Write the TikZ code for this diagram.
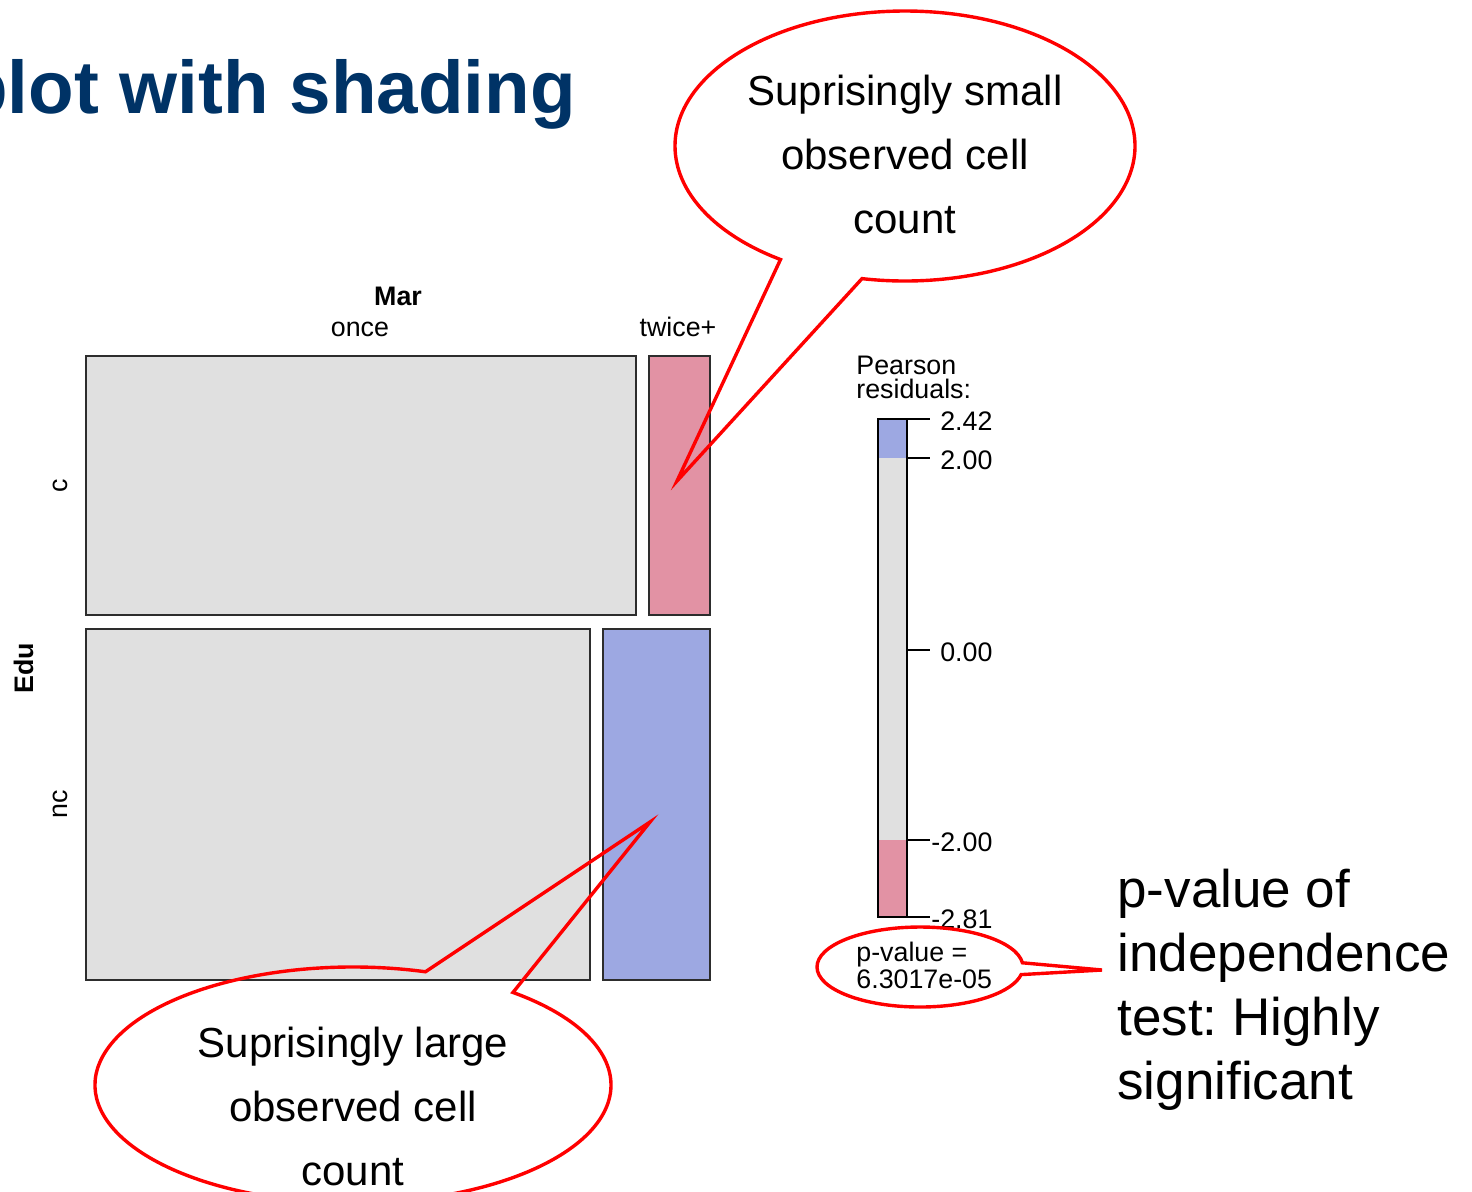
\documentclass[tikz,border=0pt]{standalone}
\usepackage{fontspec}
\setmainfont{Liberation Sans}
\usetikzlibrary{shapes.callouts,positioning}
\definecolor{titleblue}{RGB}{0,51,102}
\definecolor{cellgrey}{RGB}{224,224,224}
\definecolor{cellpink}{RGB}{226,146,164}
\definecolor{cellblue}{RGB}{157,168,226}
\definecolor{celledge}{RGB}{45,45,45}
\frenchspacing

\begin{document}
\begin{tikzpicture}[x=0.5pt,y=-0.5pt,
    cell/.style={draw=celledge, line width=1.1pt},
    plotlabel/.style={inner sep=0pt, font=\fontsize{13.4}{12}\selectfont},
    bubble/.style={ellipse callout, draw=red, line width=1.7pt, inner sep=0pt},
    bubbletext/.style={align=center, inner sep=0pt, font=\fontsize{21}{32}\selectfont}]

    \useasboundingbox (0,0) rectangle (1472,1191);
    \clip (0,0) rectangle (1472,1191);

    % TITLE
    \node[anchor=base west, inner sep=0pt, text=titleblue, font=\fontsize{37.3}{37.3}\selectfont\bfseries] (title) at (-38,113) {plot with shading};

    % MOSAIC CELLS
    \draw[cell, fill=cellgrey] (86,356) rectangle (636,615);
    \draw[cell, fill=cellpink] (649,356) rectangle (710,615);
    \draw[cell, fill=cellgrey] (86,629) rectangle (590,980);
    \draw[cell, fill=cellblue] (603,629) rectangle (710,980);

    \node[plotlabel, font=\fontsize{13.4}{12}\selectfont\bfseries, anchor=base] (marlab) at (398,305) {Mar};
    \node[plotlabel, anchor=base] (oncelab) at (360,336) {once};
    \node[plotlabel, anchor=base] (twicelab) at (678,336) {twice+};
    \node[plotlabel, font=\fontsize{13.4}{12}\selectfont\bfseries, rotate=90, anchor=base] (edulab) at (33,668) {Edu};
    \node[plotlabel, rotate=90, anchor=base] (clab) at (67,486) {c};
    \node[plotlabel, rotate=90, anchor=base] (nclab) at (67,804) {nc};

    % LEGEND
    \node[plotlabel, align=left, anchor=north west] (legtitle) at (856,356) {Pearson\\residuals:};
    \fill[cellblue] (878,419) rectangle (907,458);
    \fill[cellgrey] (878,458) rectangle (907,840);
    \fill[cellpink] (878,840) rectangle (907,917);
    \draw[line width=1.1pt] (878,419) rectangle (907,917);
    \foreach \y/\v in {419/\phantom{-}2.42, 458/\phantom{-}2.00, 650/\phantom{-}0.00, 840/-2.00, 917/-2.81} {
        \draw[line width=1.1pt] (907,\y) -- (930,\y);
        \node[plotlabel, anchor=base west] at (931,\y+11) {\v};
    }
    \node[plotlabel, align=left, anchor=north west] (pvalue) at (856,942) {p-value =\\6.3017e-05};

    % CALLOUTS
    \coordinate (smalltip) at (677,481);
    \coordinate (largetip) at (650,822);
    \coordinate (pvaltip) at (1102,970);

    \node[bubble, minimum width=230pt, minimum height=135pt, callout absolute pointer=(smalltip), callout pointer arc=22] (smallbubble) at (905,146) {};
    \node[bubbletext] (smalltext) at (905,154) {Suprisingly small\\observed cell\\count};

    \node[bubble, minimum width=258pt, minimum height=118pt, callout absolute pointer=(largetip), callout pointer arc=22] (largebubble) at (353,1085) {};
    \node[bubbletext] (largetext) at (353,1106) {Suprisingly large\\observed cell\\count};

    \node[bubble, minimum width=103pt, minimum height=40pt, callout absolute pointer=(pvaltip), callout pointer arc=17] (pvalbubble) at (920,967) {};

    \node[anchor=north west, align=left, inner sep=0pt, font=\fontsize{26.5}{32}\selectfont] (pvaltext) at (1117,869) {p-value of\\independence\\test: Highly\\significant};

\end{tikzpicture}
\end{document}
